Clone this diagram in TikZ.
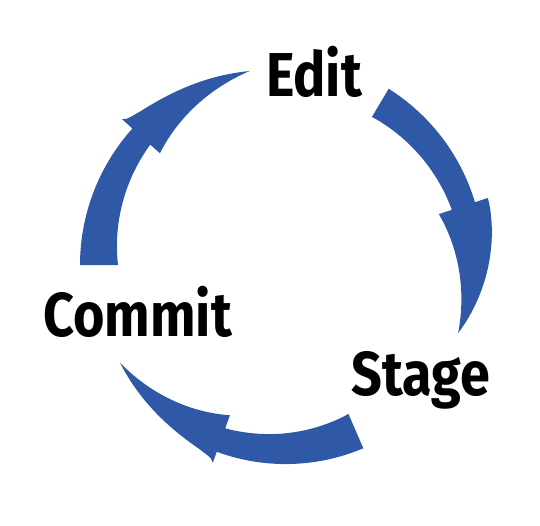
\documentclass[tikz,border=0pt]{standalone}
\usepackage{fontspec}
\newfontfamily\labelfont[FakeStretch=0.87]{Fira Sans}
\definecolor{cycblue}{RGB}{47,89,166}
\begin{document}
\begin{tikzpicture}[x=1pt,y=1pt,
  declare function={
    lin(\vq,\vA,\vB,\rA,\rB)=\rA+(\rB-\rA)*(\vq-\vA)/(\vB-\vA);
    hd(\vq,\vA,\vB,\rA,\rB,\vP)=\rA+(\rB-\rA)*pow(max((\vq-\vA)/(\vB-\vA),0.0001),\vP);},
  flow/.style={fill=cycblue},
  lbl/.style={font=\labelfont\bfseries\fontsize{62}{62}\selectfont, inner sep=0pt, anchor=base west, text=black}]
\useasboundingbox (0,0) rectangle (540,-525);
% labels
\node[lbl] (edit) at (266,-96.7) {Edit};
\node[lbl] (commit) at (43,-336.7) {Commit};
\node[lbl] (stage) at (351.5,-395) {Stage};
% arrows
\begin{scope}[shift={(284,-265)}]
% Commit -> Edit
\fill[flow] plot[domain=180:138,samples=30,variable=\q] (\q:{lin(\q,180,138,204,204)})
  -- plot[domain=138:100,samples=40,variable=\q] (\q:{hd(\q,138,100,218,197,0.5)})
  -- plot[domain=100:138,samples=40,variable=\q] (\q:{hd(\q,138,100,167,197,1)})
  -- plot[domain=138:180,samples=30,variable=\q] (\q:{lin(\q,138,180,180,166)})
  -- cycle;
% Edit -> Stage
\fill[flow] plot[domain=59.3:18.2,samples=30,variable=\q] (\q:{lin(\q,59.3,18.2,205,201)})
  -- plot[domain=18.2:-21.4,samples=40,variable=\q] (\q:{hd(\q,18.2,-21.4,214.6,187,1.3)})
  -- plot[domain=-21.4:18.2,samples=40,variable=\q] (\q:{hd(\q,18.2,-21.4,163,187,1)})
  -- plot[domain=18.2:59.3,samples=30,variable=\q] (\q:{lin(\q,18.2,59.3,176.7,172.3)})
  -- cycle;
% Stage -> Commit
\fill[flow] plot[domain=-66.6:-109.8,samples=30,variable=\q] (\q:{lin(\q,-66.6,-109.8,199.7,198.5)})
  -- plot[domain=-109.8:-149.2,samples=40,variable=\q] (\q:{hd(\q,-109.8,-149.2,210.3,190.9,0.45)})
  -- plot[domain=-149.2:-109.8,samples=40,variable=\q] (\q:{hd(\q,-109.8,-149.2,159.7,190.9,1)})
  -- plot[domain=-109.8:-66.6,samples=30,variable=\q] (\q:{lin(\q,-109.8,-66.6,173.6,162.3)})
  -- cycle;
\end{scope}
\end{tikzpicture}
\end{document}
